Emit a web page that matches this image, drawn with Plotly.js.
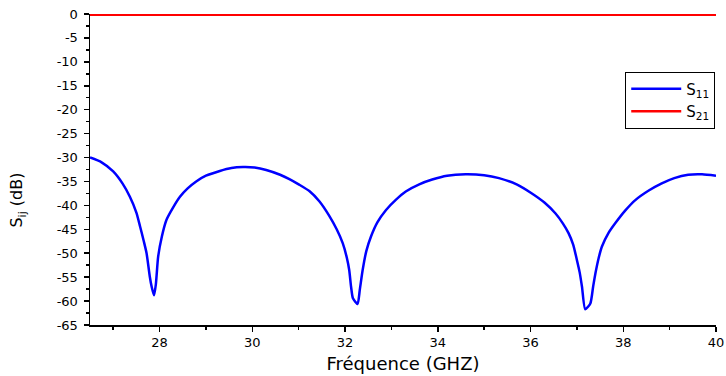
<!DOCTYPE html>
<html>
<head>
<meta charset="utf-8">
<script src="https://cdn.plot.ly/plotly-3.0.1.min.js"></script>
<style>
  html, body { margin: 0; padding: 0; background: #fff; }
  #chart { width: 726px; height: 376px; }
</style>
</head>
<body>
<div id="chart"></div>
<script>
// Frequency (GHz) and S-parameter values (dB)
const freqS11 = [26.5, 26.75, 27.0, 27.2, 27.36, 27.5, 27.58, 27.66, 27.72, 27.79, 27.83, 27.88, 27.92, 27.97, 28.05, 28.15, 28.3, 28.44, 28.6, 28.79, 29.0, 29.3, 29.55, 29.8, 30.05, 30.3, 30.6, 30.8, 31.0, 31.23, 31.45, 31.66, 31.82, 31.95, 32.04, 32.09, 32.13, 32.17, 32.27, 32.32, 32.38, 32.46, 32.56, 32.7, 32.88, 33.1, 33.31, 33.6, 33.88, 34.2, 34.6, 35.0, 35.32, 35.7, 36.03, 36.3, 36.54, 36.7, 36.82, 36.92, 37.0, 37.06, 37.11, 37.18, 37.29, 37.35, 37.4, 37.47, 37.54, 37.68, 37.83, 38.05, 38.26, 38.55, 38.83, 39.1, 39.4, 39.7, 40.0];
const s11 = [-30.0, -31.0, -32.9, -35.4, -38.2, -41.5, -44.4, -47.5, -50.0, -54.9, -57.0, -58.8, -56.5, -50.7, -46.5, -43.0, -40.3, -38.2, -36.5, -35.0, -33.8, -32.8, -32.2, -32.0, -32.1, -32.6, -33.6, -34.5, -35.6, -37.0, -39.2, -42.2, -45.0, -47.9, -51.0, -53.5, -57.0, -59.4, -60.6, -57.5, -53.5, -49.5, -46.5, -43.5, -41.0, -38.8, -37.1, -35.6, -34.6, -33.8, -33.5, -33.7, -34.3, -35.6, -37.5, -39.4, -41.7, -43.8, -45.8, -48.2, -51.4, -54.0, -57.0, -61.7, -60.5, -57.0, -54.2, -51.0, -48.6, -45.8, -43.7, -41.0, -38.9, -36.9, -35.4, -34.3, -33.6, -33.5, -33.8];
const freqS21 = [26.5, 28, 30, 32, 34, 36, 38, 40];
const s21 = [-0.15, -0.15, -0.15, -0.15, -0.15, -0.15, -0.15, -0.15];
const seriesNames = ['S<sub>11</sub>', 'S<sub>21</sub>'];
const xTickVals = [28, 30, 32, 34, 36, 38, 40];
const yTickVals = [0, -5, -10, -15, -20, -25, -30, -35, -40, -45, -50, -55, -60, -65];
const xTitle = 'Fréquence (GHZ)';
const yTitle = 'S<sub>ij</sub> (dB)';

const font = 'DejaVu Sans, Arial, sans-serif';

const traces = [
  { x: freqS11, y: s11, name: seriesNames[0], type: 'scatter', mode: 'lines',
    line: { color: '#0000ff', width: 2.5, shape: 'spline', smoothing: 0.6 } },
  { x: freqS21, y: s21, name: seriesNames[1], type: 'scatter', mode: 'lines',
    line: { color: '#ff0000', width: 2.5 }, cliponaxis: false }
];

const layout = {
  width: 726, height: 376,
  margin: { l: 90, r: 10, t: 14, b: 51 },
  paper_bgcolor: '#ffffff', plot_bgcolor: '#ffffff',
  font: { family: font, color: '#000', size: 12 },
  showlegend: true,
  legend: {
    x: 0.855, y: 0.815, xanchor: 'left', yanchor: 'top',
    bgcolor: '#ffffff', bordercolor: '#000', borderwidth: 1,
    font: { family: font, size: 15, color: '#000' },
    itemwidth: 50,
    tracegroupgap: 0
  },
  xaxis: {
    range: [26.5, 40], tickvals: xTickVals, ticktext: xTickVals.map(String),
    showgrid: false, zeroline: false, showline: true, linecolor: '#000', linewidth: 1.5,
    ticks: 'outside', ticklen: 5, tickwidth: 1.5, tickcolor: '#000',
    minor: { dtick: 1, tick0: 27, ticks: 'outside', ticklen: 3, tickwidth: 1.5, tickcolor: '#000', showgrid: false },
    tickfont: { family: font, size: 13, color: '#000' },
    title: { text: xTitle, font: { family: font, size: 18, color: '#000' }, standoff: 8 }
  },
  yaxis: {
    range: [-65, 0], tickvals: yTickVals, ticktext: yTickVals.map(String),
    showgrid: false, zeroline: false, showline: true, linecolor: '#000', linewidth: 1.5,
    ticks: 'outside', ticklen: 5, tickwidth: 1.5, tickcolor: '#000', ticklabelstandoff: 3,
    minor: { dtick: 2.5, tick0: 0, ticks: 'outside', ticklen: 3, tickwidth: 1.5, tickcolor: '#000', showgrid: false },
    tickfont: { family: font, size: 13, color: '#000' }
  },
  annotations: [{
    text: yTitle, xref: 'paper', yref: 'paper', x: -0.115, y: 0.40,
    xanchor: 'center', yanchor: 'middle', textangle: -90, showarrow: false,
    font: { family: font, size: 16, color: '#000' }
  }]
};

Plotly.newPlot('chart', traces, layout, { displayModeBar: false, staticPlot: true });
</script>
</body>
</html>
